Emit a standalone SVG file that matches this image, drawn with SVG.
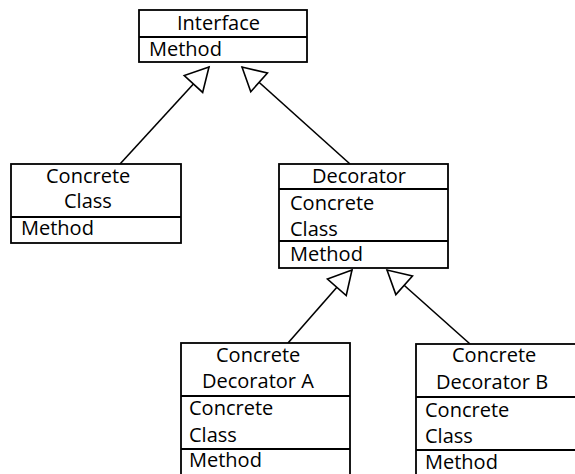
<svg xmlns="http://www.w3.org/2000/svg" width="575" height="474" viewBox="0 0 575 474">
  <style>
    .box { fill: #fff; stroke: #000; stroke-width: 1.8; }
    .sep { stroke: #000; stroke-width: 1.8; }
    .edge { stroke: #000; stroke-width: 1.6; fill: none; }
    text { font-family: "Open Sans", "DejaVu Sans", sans-serif; font-size: 20px; fill: #000; }
  </style>
  <defs>
    <!-- hollow generalization arrowhead -->
    <marker id="inherit" markerUnits="userSpaceOnUse" viewBox="-26 -15 28 30" refX="0" refY="0" markerWidth="28" markerHeight="30" orient="auto" overflow="visible">
      <path d="M0,0 L-23,-12.5 L-23,12.5 Z" fill="#fff" stroke="#000" stroke-width="1.6" stroke-linejoin="miter"/>
    </marker>
  </defs>
  <rect width="575" height="474" fill="#fff"/>

  <g id="connectors">
    <line class="edge" x1="120" y1="164" x2="209" y2="67" marker-end="url(#inherit)"/>
    <line class="edge" x1="350" y1="164" x2="242" y2="67" marker-end="url(#inherit)"/>
    <line class="edge" x1="288" y1="343" x2="352" y2="270" marker-end="url(#inherit)"/>
    <line class="edge" x1="470" y1="344" x2="387" y2="270" marker-end="url(#inherit)"/>
  </g>

  <g id="interface">
    <rect class="box" x="139" y="10" width="168" height="52"/>
    <line class="sep" x1="139" y1="37" x2="307" y2="37"/>
    <text x="177" y="30">Interface</text>
    <text x="149" y="56">Method</text>
  </g>

  <g id="concrete-class">
    <rect class="box" x="11" y="164" width="170" height="79"/>
    <line class="sep" x1="11" y1="217" x2="181" y2="217"/>
    <text x="46" y="183">Concrete</text>
    <text x="64" y="208">Class</text>
    <text x="21" y="235">Method</text>
  </g>

  <g id="decorator">
    <rect class="box" x="279" y="164" width="169" height="104"/>
    <line class="sep" x1="279" y1="189" x2="448" y2="189"/>
    <line class="sep" x1="279" y1="241" x2="448" y2="241"/>
    <text x="312" y="183">Decorator</text>
    <text x="290" y="210">Concrete</text>
    <text x="290" y="236">Class</text>
    <text x="290" y="261">Method</text>
  </g>

  <g id="concrete-decorator-a">
    <rect class="box" x="181" y="343" width="169" height="140"/>
    <line class="sep" x1="181" y1="396" x2="350" y2="396"/>
    <line class="sep" x1="181" y1="449" x2="350" y2="449"/>
    <text x="216" y="362">Concrete</text>
    <text x="202" y="388">Decorator A</text>
    <text x="189" y="415">Concrete</text>
    <text x="189" y="442">Class</text>
    <text x="189" y="467">Method</text>
  </g>

  <g id="concrete-decorator-b">
    <rect class="box" x="416" y="344" width="170" height="140"/>
    <line class="sep" x1="416" y1="397" x2="586" y2="397"/>
    <line class="sep" x1="416" y1="450" x2="586" y2="450"/>
    <text x="452" y="362">Concrete</text>
    <text x="436" y="389">Decorator B</text>
    <text x="425" y="417">Concrete</text>
    <text x="425" y="443">Class</text>
    <text x="425" y="469">Method</text>
  </g>
</svg>
